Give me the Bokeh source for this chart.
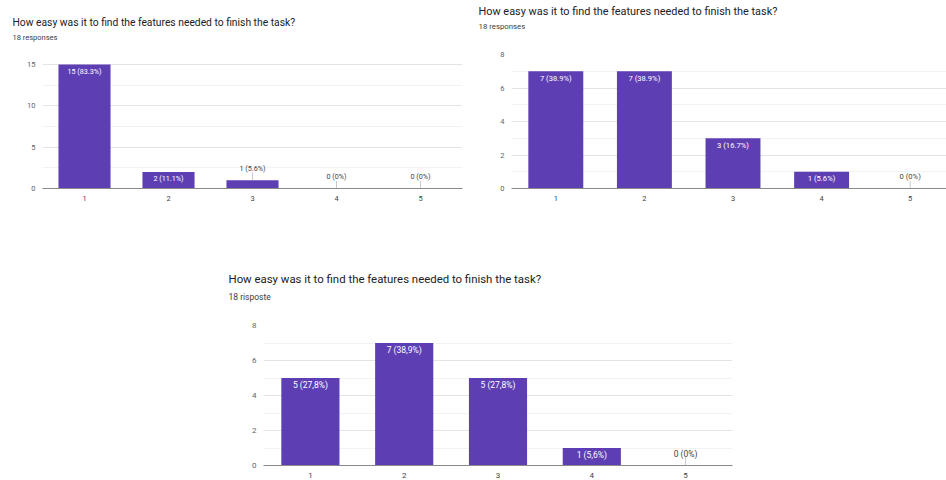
from bokeh.plotting import figure
from bokeh.models import Range1d, FixedTicker, Title, Spacer, LinearAxis
from bokeh.layouts import column, row
from bokeh.embed import file_html
from bokeh.resources import INLINE
from bokeh.core.properties import value

# ---------------- data ----------------
categories = ["1", "2", "3", "4", "5"]
question = "How easy was it to find the features needed to finish the task?"

counts_a = [15, 2, 1, 0, 0]
labels_a = ["15 (83.3%)", "2 (11.1%)", "1 (5.6%)", "0 (0%)", "0 (0%)"]
subtitle_a = "18 responses"
yticks_a = [0, 5, 10, 15]

counts_b = [7, 7, 3, 1, 0]
labels_b = ["7 (38.9%)", "7 (38.9%)", "3 (16.7%)", "1 (5.6%)", "0 (0%)"]
subtitle_b = "18 responses"
yticks_b = [0, 2, 4, 6, 8]

counts_c = [5, 7, 5, 1, 0]
labels_c = ["5 (27,8%)", "7 (38,9%)", "5 (27,8%)", "1 (5,6%)", "0 (0%)"]
subtitle_c = "18 risposte"
yticks_c = [0, 2, 4, 6, 8]

BAR = "#5e3eb3"
FONT = "Roboto"


def panel(counts, labels, subtitle, yticks, width, height, borders, x_end,
          sizes, head):
    left, right, top, bottom = borders
    title_size, sub_size, tick_size, lab_size = sizes
    t_off, gap, t_stand, top_pad = head
    ymax = yticks[-1]
    frame_h = height - top - bottom
    y_end = ymax * frame_h / (frame_h - top_pad)
    xs = list(range(1, len(categories) + 1))
    p = figure(width=width, height=height, output_backend="svg",
               toolbar_location=None, title=None,
               x_range=Range1d(0.5, x_end), y_range=Range1d(0, y_end),
               min_border_left=left, min_border_right=right,
               min_border_top=top, min_border_bottom=bottom)
    p.outline_line_color = None
    p.background_fill_color = "white"
    p.border_fill_color = "white"

    # blank spacer axis between the frame and the subtitle (white tick, empty label)
    sp = LinearAxis(ticker=FixedTicker(ticks=[xs[0]]), axis_line_color=None,
                    major_tick_line_color="#ffffff", minor_tick_line_color=None,
                    major_tick_out=gap, minor_tick_out=0, major_tick_in=0,
                    minor_tick_in=0, major_label_standoff=0,
                    major_label_overrides={xs[0]: ""})
    p.add_layout(sp, "above")
    p.add_layout(Title(text=subtitle, align="left", offset=t_off, standoff=2,
                       text_font=FONT, text_font_size=f"{sub_size}px",
                       text_font_style="normal", text_color="#3c4043"), "above")
    p.add_layout(Title(text=question, align="left", offset=t_off, standoff=t_stand,
                       text_font=FONT, text_font_size=f"{title_size}px",
                       text_font_style="normal", text_color="#202124"), "above")

    p.vbar(x=xs, top=counts, width=0.62, bottom=0, fill_color=BAR, line_color=None)

    inside = [c / ymax > 0.1 for c in counts]
    in_x = [x for x, f in zip(xs, inside) if f]
    in_y = [c for c, f in zip(counts, inside) if f]
    in_t = [t for t, f in zip(labels, inside) if f]
    out_x = [x for x, f in zip(xs, inside) if not f]
    out_y = [c for c, f in zip(counts, inside) if not f]
    out_t = [t for t, f in zip(labels, inside) if not f]

    p.text(x=in_x, y=in_y, text=in_t, text_align="center", text_baseline="middle",
           y_offset=7, text_color="white", text_font=value(FONT),
           text_font_size=f"{lab_size}px")
    stem = ymax * 0.06
    p.segment(x0=out_x, y0=out_y, x1=out_x, y1=[v + stem for v in out_y],
              line_color="#c8c8c8", line_width=1)
    p.text(x=out_x, y=out_y, text=out_t, text_align="center", text_baseline="middle",
           y_offset=-12, text_color="#444444", text_font=value(FONT),
           text_font_size=f"{lab_size}px")

    minor = [(a + b) / 2 for a, b in zip(yticks[:-1], yticks[1:])]
    p.yaxis.ticker = FixedTicker(ticks=yticks, minor_ticks=minor)
    p.ygrid.ticker = p.yaxis.ticker
    p.ygrid.grid_line_color = "#e4e4e4"
    p.ygrid.minor_grid_line_color = "#f2f2f2"
    p.xgrid.grid_line_color = None
    p.yaxis.axis_line_color = None
    p.yaxis.major_tick_line_color = None
    p.yaxis.minor_tick_line_color = None
    p.yaxis.major_tick_out = 0
    p.yaxis.minor_tick_out = 0
    p.yaxis.major_label_text_font = FONT
    p.yaxis.major_label_text_font_size = f"{tick_size}px"
    p.yaxis.major_label_text_color = "#5f6368"
    p.yaxis.major_label_standoff = 7

    xa = p.below[0]
    xa.ticker = FixedTicker(ticks=xs)
    xa.major_label_overrides = {x: c for x, c in zip(xs, categories)}
    xa.axis_line_color = "#8a8a8a"
    xa.major_tick_line_color = None
    xa.minor_tick_line_color = None
    xa.major_tick_out = 0
    xa.minor_tick_out = 0
    xa.major_label_text_font = FONT
    xa.major_label_text_font_size = f"{tick_size}px"
    xa.major_label_text_color = "#444444"
    xa.major_label_standoff = 7
    return p


pa = panel(counts_a, labels_a, subtitle_a, yticks_a, 470, 210, (42, 8, 54, 22),
           5.5, (10.3, 7.5, 7.5, 7.2), (-30, 12, 2, 10))
pb = panel(counts_b, labels_b, subtitle_b, yticks_b, 476, 210, (41, 0, 54, 22),
           0.5 + 435 / 88.6, (10.9, 7.8, 7.5, 7.6), (-33, 23, 2, 0))
pc = panel(counts_c, labels_c, subtitle_c, yticks_c, 520, 270, (43, 8, 115, 15),
           5.5, (11.4, 8.5, 8, 8.5), (-35, 23, 6, 0))

layout = column(row(pa, pb), row(Spacer(width=220, height=270), pc))
open("out.html", "w").write(file_html(layout, INLINE))
